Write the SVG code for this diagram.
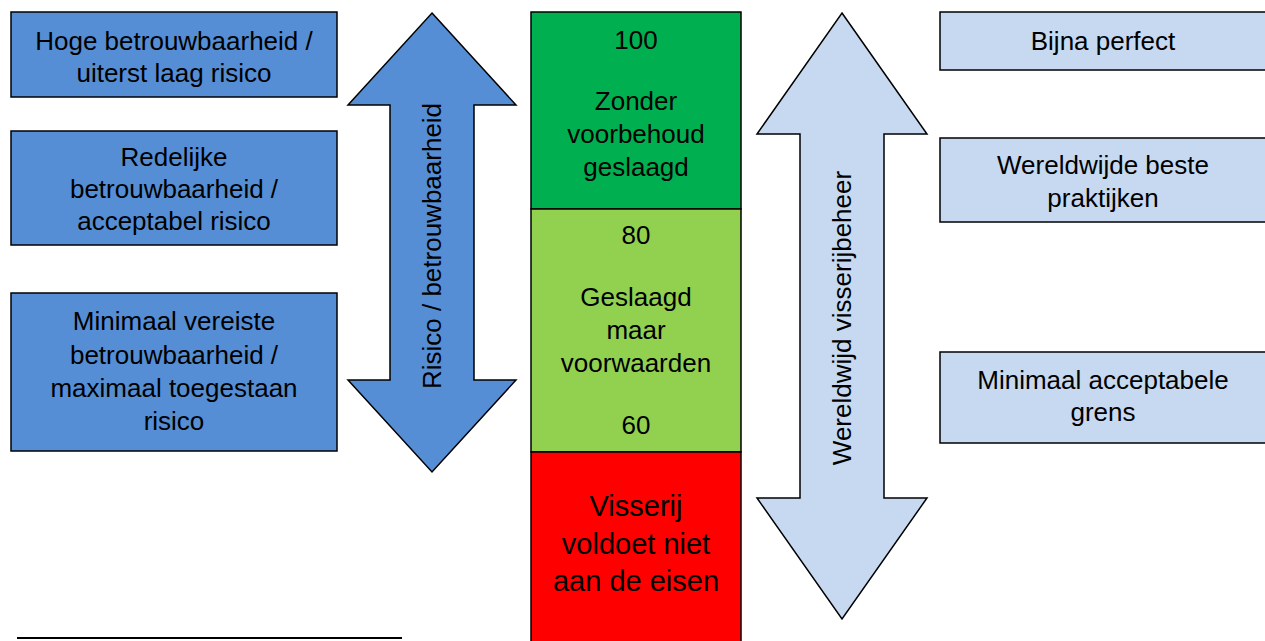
<svg xmlns="http://www.w3.org/2000/svg" width="1265" height="641" viewBox="0 0 1265 641">
<style>
text{font-family:"Liberation Sans",Arial,sans-serif;font-size:26px;fill:#000;text-anchor:middle;}
.big{font-size:29px;}
.dk{fill:#558ED5;stroke:#000;stroke-width:1.5;}
.lt{fill:#C6D9F1;stroke:#000;stroke-width:1.5;}
.bd{stroke:#000;stroke-width:1.5;}
</style>
<rect width="1265" height="641" fill="#fff"/>
<g id="left1"><rect class="dk" x="11" y="12" width="326" height="85"/><text x="174" y="50">Hoge betrouwbaarheid /</text><text x="174" y="82">uiterst laag risico</text></g>
<g id="left2"><rect class="dk" x="11" y="131" width="326" height="114"/><text x="174" y="166">Redelijke</text><text x="174" y="198">betrouwbaarheid /</text><text x="174" y="230">acceptabel risico</text></g>
<g id="left3"><rect class="dk" x="11" y="293" width="326" height="158"/><text x="174" y="330">Minimaal vereiste</text><text x="174" y="364">betrouwbaarheid /</text><text x="174" y="397">maximaal toegestaan</text><text x="174" y="430">risico</text></g>
<g id="arrow-left"><polygon class="dk" points="432,13 516,105 474,105 474,380 516,380 432,472 348,380 390,380 390,105 348,105"/><text transform="translate(441,246) rotate(-90)">Risico / betrouwbaarheid</text></g>
<g id="band-green"><rect class="bd" x="531" y="12" width="210" height="197" fill="#00B050"/><text x="636" y="49">100</text><text x="636" y="110">Zonder</text><text x="636" y="143">voorbehoud</text><text x="636" y="176">geslaagd</text></g>
<g id="band-lightgreen"><rect class="bd" x="531" y="209" width="210" height="243" fill="#92D050"/><text x="636" y="244">80</text><text x="636" y="306">Geslaagd</text><text x="636" y="339">maar</text><text x="636" y="372">voorwaarden</text><text x="636" y="434">60</text></g>
<g id="band-red"><rect class="bd" x="531" y="452" width="210" height="195" fill="#FF0000"/><text class="big" x="636" y="516">Visserij</text><text class="big" x="636" y="554">voldoet niet</text><text class="big" x="636" y="591">aan de eisen</text></g>
<g id="arrow-right"><polygon class="lt" points="842,13 927,134 884,134 884,498 927,498 842,619 757,498 800,498 800,134 757,134"/><text transform="translate(851,318) rotate(-90)">Wereldwijd visserijbeheer</text></g>
<g id="right1"><rect class="lt" x="940" y="12" width="330" height="58"/><text x="1103" y="50">Bijna perfect</text></g>
<g id="right2"><rect class="lt" x="940" y="138" width="330" height="84"/><text x="1103" y="174">Wereldwijde beste</text><text x="1103" y="207">praktijken</text></g>
<g id="right3"><rect class="lt" x="940" y="352" width="330" height="91"/><text x="1103" y="389">Minimaal acceptabele</text><text x="1103" y="421">grens</text></g>
<g id="connectors"><line x1="17" y1="638" x2="402" y2="638" stroke="#000" stroke-width="2"/></g>
</svg>
